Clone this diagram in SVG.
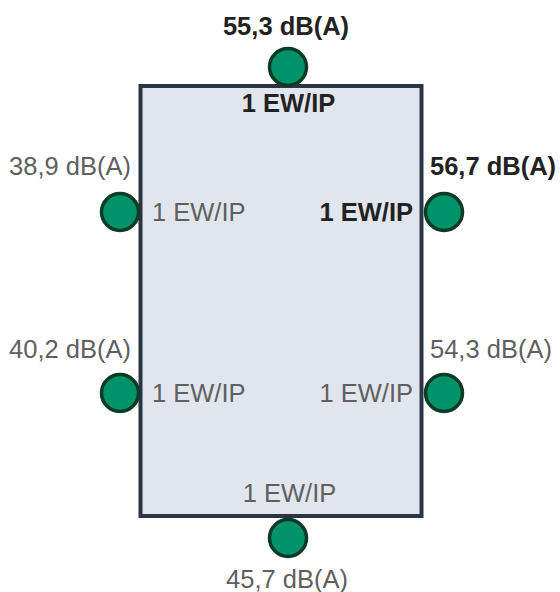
<svg xmlns="http://www.w3.org/2000/svg" width="560" height="592" viewBox="0 0 560 592">
<style>
.t{font-family:"Liberation Sans",Arial,sans-serif;font-size:25.5px;fill:#5f5f5f}
.b{font-weight:bold;fill:#222}
.pt{fill:#00936a;stroke:#0c3b27;stroke-width:3.5}
.room{fill:#e1e6ee;stroke:#2b3544;stroke-width:4}
</style>
<rect width="560" height="592" fill="#fff"/>
<g id="room"><rect class="room" x="140.5" y="86" width="281" height="430"/></g>
<g id="top">
<circle class="pt" cx="288" cy="67" r="18.5"/>
<text class="t b" x="286" y="35" text-anchor="middle">55,3 dB(A)</text>
<text class="t b" x="288.5" y="112" text-anchor="middle">1 EW/IP</text>
</g>
<g id="left-upper">
<circle class="pt" cx="120" cy="212" r="18.5"/>
<text class="t" x="131" y="175" text-anchor="end">38,9 dB(A)</text>
<text class="t" x="152" y="221">1 EW/IP</text>
</g>
<g id="right-upper">
<circle class="pt" cx="444" cy="212" r="18.5"/>
<text class="t b" x="430" y="175">56,7 dB(A)</text>
<text class="t b" x="413" y="221" text-anchor="end">1 EW/IP</text>
</g>
<g id="left-lower">
<circle class="pt" cx="120" cy="393" r="18.5"/>
<text class="t" x="131" y="358" text-anchor="end">40,2 dB(A)</text>
<text class="t" x="152" y="402">1 EW/IP</text>
</g>
<g id="right-lower">
<circle class="pt" cx="444" cy="393" r="18.5"/>
<text class="t" x="430" y="358">54,3 dB(A)</text>
<text class="t" x="413" y="402" text-anchor="end">1 EW/IP</text>
</g>
<g id="bottom">
<circle class="pt" cx="288" cy="538" r="18.5"/>
<text class="t" x="289.5" y="502" text-anchor="middle">1 EW/IP</text>
<text class="t" x="287" y="588" text-anchor="middle">45,7 dB(A)</text>
</g>
</svg>
